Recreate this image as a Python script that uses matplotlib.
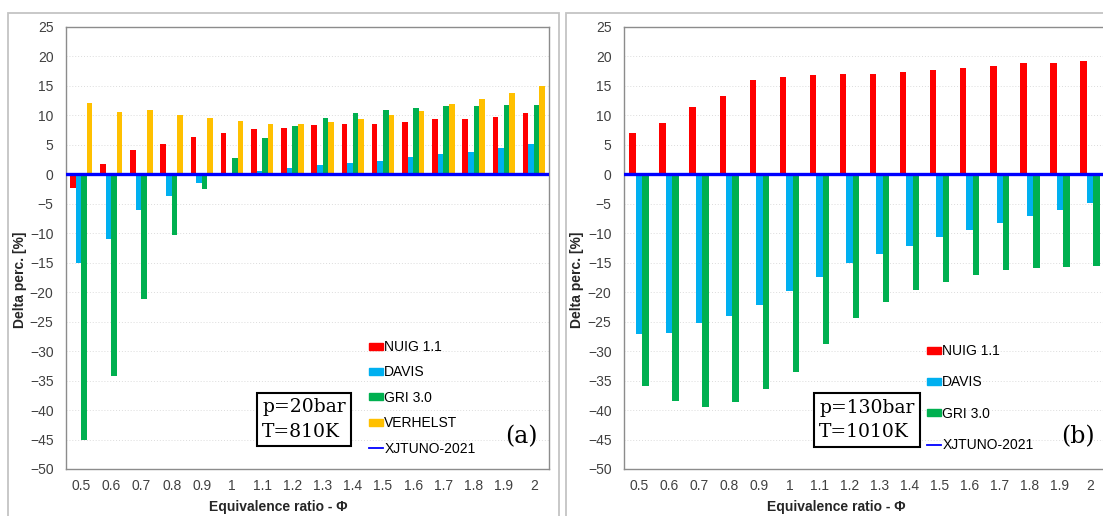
import matplotlib
matplotlib.use("Agg")
import matplotlib.pyplot as plt
import numpy as np
from matplotlib.patches import Patch, Rectangle
from matplotlib.lines import Line2D

plt.rcParams["font.family"] = ["Liberation Sans", "DejaVu Sans"]

# ---------------------------------------------------------------------------
# Data
# ---------------------------------------------------------------------------
phi_labels = ["0.5", "0.6", "0.7", "0.8", "0.9", "1", "1.1", "1.2", "1.3",
              "1.4", "1.5", "1.6", "1.7", "1.8", "1.9", "2"]

# (a) p=20bar, T=810K
a_nuig = [-2.3, 1.8, 4.2, 5.2, 6.3, 7.0, 7.65, 7.9, 8.3, 8.6, 8.6, 8.8,
          9.4, 9.4, 9.8, 10.4]
a_davis = [-15.0, -11.0, -6.1, -3.6, -1.5, 0.1, 0.6, 1.0, 1.5, 2.0, 2.3,
           2.9, 3.5, 3.75, 4.5, 5.2]
a_gri = [-45.1, -34.2, -21.1, -10.3, -2.5, 2.7, 6.1, 8.2, 9.6, 10.4, 10.9,
         11.3, 11.55, 11.55, 11.7, 11.8]
a_verhelst = [12.1, 10.6, 11.0, 10.15, 9.6, 9.1, 8.6, 8.5, 8.8, 9.35, 10.0,
              10.8, 11.85, 12.75, 13.8, 15.0]

# (b) p=130bar, T=1010K
b_nuig = [7.0, 8.7, 11.45, 13.3, 16.0, 16.6, 16.9, 17.1, 17.05, 17.35, 17.7,
          18.1, 18.3, 18.9, 18.9, 19.3]
b_davis = [-27.1, -26.9, -25.3, -24.0, -22.2, -19.8, -17.5, -15.1, -13.6,
           -12.2, -10.6, -9.4, -8.2, -7.1, -6.1, -4.9]
b_gri = [-36.0, -38.5, -39.5, -38.7, -36.5, -33.6, -28.8, -24.4, -21.6,
         -19.6, -18.2, -17.0, -16.3, -15.85, -15.7, -15.5]

# reference mechanism: zero deviation
xjtuno = 0.0

RED, BLUE, GREEN, YELLOW = "#ff0000", "#00b0f0", "#00b050", "#ffc000"
TICK_C = "#404040"
W_PX, H_PX = 1103, 516


def fx(px):
    return px / W_PX


def fy(py):
    return 1 - py / H_PX


def style_axes(ax):
    ax.set_xlim(-0.5, len(phi_labels) - 0.5)
    ax.set_ylim(-50, 25)
    ax.set_yticks(np.arange(-50, 26, 5))
    ax.set_xticks(np.arange(len(phi_labels)))
    ax.set_xticklabels(phi_labels)
    ax.tick_params(length=0, labelsize=10, labelcolor=TICK_C)
    ax.tick_params(axis="y", pad=9)
    ax.tick_params(axis="x", pad=7)
    ax.yaxis.grid(True, linestyle=(0, (1, 2)), color="#dcdcdc", lw=0.7)
    ax.set_axisbelow(True)
    for s in ax.spines.values():
        s.set_color("#8c8c8c")
        s.set_linewidth(1.0)


fig = plt.figure(figsize=(W_PX / 100, H_PX / 100), dpi=100)

# outer chart frames
for x0, x1 in [(8, 559), (566, 1130)]:
    fig.patches.append(Rectangle((fx(x0), fy(530)), fx(x1 - x0), fy(13) - fy(530),
                                 transform=fig.transFigure, fill=False,
                                 edgecolor="#c4c4c4", lw=1.3, zorder=0))

x = np.arange(len(phi_labels))

# ---------------- panel (a) ----------------
axa = fig.add_axes([fx(66), fy(469), fx(549 - 66), fy(27) - fy(469)])
style_axes(axa)
w = 0.185
for k, (vals, col) in enumerate([(a_nuig, RED), (a_davis, BLUE),
                                 (a_gri, GREEN), (a_verhelst, YELLOW)]):
    axa.bar(x + (k - 1.5) * w, vals, w, color=col, zorder=2)
axa.axhline(xjtuno, color="#0000ff", lw=2.4, zorder=3)

handles_a = [Patch(color=RED), Patch(color=BLUE), Patch(color=GREEN),
             Patch(color=YELLOW), Line2D([], [], color="#0000ff", lw=1.3)]
axa.legend(handles_a, ["NUIG 1.1", "DAVIS", "GRI 3.0", "VERHELST", "XJTUNO-2021"],
           loc="upper left", bbox_to_anchor=(fx(369), fy(340)),
           bbox_transform=fig.transFigure, frameon=False, fontsize=10,
           handlelength=1.0, handleheight=0.4, handletextpad=0.1,
           labelspacing=0.82, borderpad=0, borderaxespad=0)

# ---------------- panel (b) ----------------
axb = fig.add_axes([fx(624), fy(469), fx(1105 - 624), fy(27) - fy(469)])
style_axes(axb)
w = 0.215
for k, (vals, col) in enumerate([(b_nuig, RED), (b_davis, BLUE), (b_gri, GREEN)]):
    axb.bar(x + (k - 1) * w, vals, w, color=col, zorder=2)
axb.axhline(xjtuno, color="#0000ff", lw=2.4, zorder=3)

handles_b = [Patch(color=RED), Patch(color=BLUE), Patch(color=GREEN),
             Line2D([], [], color="#0000ff", lw=1.3)]
axb.legend(handles_b, ["NUIG 1.1", "DAVIS", "GRI 3.0", "XJTUNO-2021"],
           loc="upper left", bbox_to_anchor=(fx(927), fy(344)),
           bbox_transform=fig.transFigure, frameon=False, fontsize=10,
           handlelength=1.0, handleheight=0.4, handletextpad=0.1,
           labelspacing=1.25, borderpad=0, borderaxespad=0)

# axis titles (centred on the chart frames, Excel style)
for cx, ycx in [(278, 20), (836, 577)]:
    fig.text(fx(cx), fy(507), "Equivalence ratio - \u03a6", ha="center",
             va="center", fontsize=10, fontweight="bold", color="#262626")
    fig.text(fx(ycx), fy(280), "Delta perc. [%]", ha="center", va="center",
             rotation=90, fontsize=10, fontweight="bold", color="#262626")

# condition boxes and panel tags
for cx, cy, txt in [(304, 419.5, "p=20bar\nT=810K"),
                    (867, 420, "p=130bar\nT=1010K")]:
    fig.text(fx(cx), fy(cy), txt, ha="center", va="center",
             multialignment="left", family="DejaVu Serif", fontsize=13.5,
             linespacing=1.45,
             bbox=dict(boxstyle="square,pad=0.3", facecolor="white",
                       edgecolor="black", lw=1.5))
for cx, txt in [(521, "(a)"), (1078, "(b)")]:
    fig.text(fx(cx), fy(437), txt, ha="center", va="center",
             family="DejaVu Serif", fontsize=17)

fig.savefig("out.png", dpi=100)
